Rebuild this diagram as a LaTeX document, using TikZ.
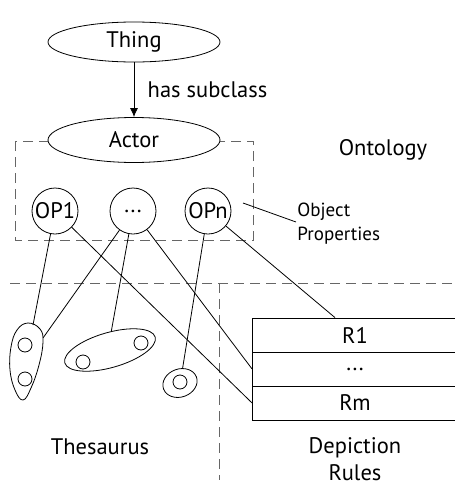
\documentclass[tikz,border=0pt]{standalone}
\usepackage{fontspec}
\setmainfont{PT Sans}
\usetikzlibrary{arrows.meta,shapes.geometric}

\begin{document}
\begin{tikzpicture}[x=1pt,y=-1pt,line width=0.8pt,
    font=\fontsize{22.5}{27}\selectfont,
    cls/.style={ellipse,draw,fill=white,minimum width=172pt,inner sep=0pt},
    prop/.style={circle,draw,minimum size=46pt,inner sep=0pt},
    term/.style={circle,draw,minimum size=14pt,inner sep=0pt},
    rule/.style={rectangle,draw,minimum width=205pt,minimum height=34pt,inner sep=0pt},
    area/.style={draw=black!60,line width=1pt,dash pattern=on 10pt off 6pt}]

    \clip (0,0) rectangle (455,485);

    % square around ontology
    \draw[area] (15,141) rectangle (253,240);

    % class hierarchy
    \node[cls,minimum height=40pt] (thing) at (134,42) {Thing};
    \node[cls,minimum height=45pt] (actor) at (134,140) {Actor};
    \draw[-{Latex[length=9pt,width=8pt]}] (thing) -- node[right=10pt] (sub) {has subclass} (actor);
    \node (onto) at (383,150) {Ontology};

    % object properties
    \node[prop] (op1) at (55,211) {OP1};
    \node[prop] (opdots) at (133,211) {...};
    \node[prop] (opn) at (208,211) {OPn};

    % label for properties
    \node[font=\fontsize{19}{24}\selectfont,align=left,anchor=west,inner sep=1pt] (props) at (296,224) {Object\\Properties};
    \coordinate (lead) at (243,203);
    \draw (lead) -- ([yshift=2pt]props.west);

    %%%%%%%%%%%%%%%%%%%%%%%%%%%%%%%%%%%%%%%%%%%%%%%%%%%%%%

    % borders between thesaurus and rules
    \draw[area] (10,283) -- (455,283);
    \draw[area] (219,283) -- (219,480);

    % depiction rules
    \node[rule] (r1) at (355,335) {R1};
    \node[rule] (rdots) at (355,369) {...};
    \node[rule] (rm) at (355,403) {Rm};
    \node[align=center,inner sep=1pt] (rules) at (355,459) {Depiction\\Rules};

    %%%%%%%%%%%%%%%%%%%%%%%%%%%%%%%%%%%%%%%%%%%%%%%%%%%%%%

    % thesaurus groups
    \draw plot[smooth cycle,tension=0.7] coordinates {(28,323) (40,329) (43,342) (39,365) (31,388) (23,400) (15,390) (10,370) (11,347) (17,330)};
    \coordinate (eggtop) at (33,325);
    \coordinate (eggside) at (43,338);
    \node[term] (t1) at (25,345) {};
    \node[term] (t2) at (25,379) {};

    \node[ellipse,draw,minimum width=94pt,minimum height=35pt,inner sep=0pt,rotate=16] (grp) at (110,350) {};
    \node[term] (t3) at (83,362) {};
    \node[term] (t4) at (141,343) {};

    \node[ellipse,draw,minimum width=35pt,minimum height=28pt,inner sep=0pt,rotate=20] (single) at (180,383) {};
    \node[term] (t5) at (180,382) {};

    \node (thes) at (100,447) {Thesaurus};

    %%%%%%%%%%%%%%%%%%%%%%%%%%%%%%%%%%%%%%%%%%%%%%%%%%%%%%

    % properties to thesaurus terms and rules
    \draw (op1) -- (eggtop);
    \draw (op1) -- (rm.west);
    \draw (opdots) -- (eggside);
    \draw (opdots) -- (grp.70);
    \draw (opdots) -- (rdots.west);
    \draw (opn) -- (single.60);
    \draw (opn) -- ([xshift=-20pt]r1.north);

\end{tikzpicture}
\end{document}
